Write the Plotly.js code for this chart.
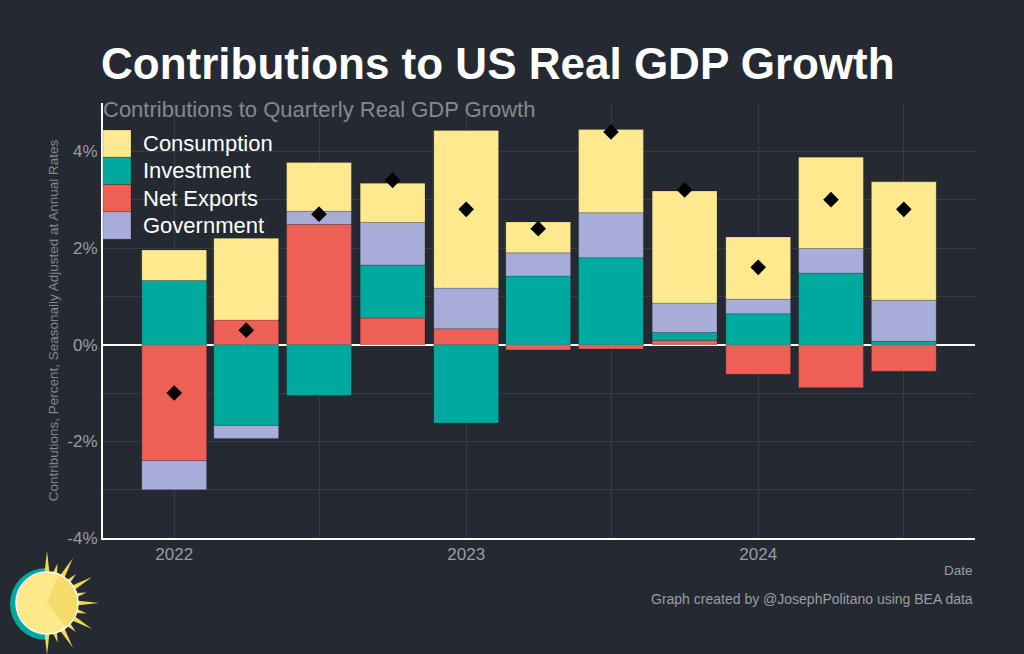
<!DOCTYPE html>
<html>
<head>
<meta charset="utf-8">
<script src="https://cdn.plot.ly/plotly-3.0.1.min.js"></script>
<style>
html,body{margin:0;padding:0;background:#252a32;}
#chart{width:1024px;height:654px;}
</style>
</head>
<body>
<div id="chart"></div>
<script>
// ---- Data (percentage-point contributions, SAAR) ----
const quarters = ['2022-01-01','2022-04-01','2022-07-01','2022-10-01','2023-01-01','2023-04-01','2023-07-01','2023-10-01','2024-01-01','2024-04-01','2024-07-01'];
const consumption = [0.63, 1.69, 1.01, 0.81, 3.26, 0.64, 1.72, 2.32, 1.29, 1.89, 2.45];
const investment  = [1.33, -1.67, -1.05, 1.10, -1.62, 1.42, 1.80, 0.16, 0.64, 1.48, 0.07];
const netExports  = [-2.40, 0.51, 2.49, 0.55, 0.33, -0.11, -0.09, 0.09, -0.61, -0.89, -0.55];
const government  = [-0.60, -0.27, 0.27, 0.88, 0.84, 0.48, 0.93, 0.61, 0.30, 0.51, 0.85];
const gdpGrowth   = [-1.0, 0.3, 2.7, 3.4, 2.8, 2.4, 4.4, 3.2, 1.6, 3.0, 2.8];
const yTickVals   = [-4, -2, 0, 2, 4];
const yTickText   = ['-4%', '-2%', '0%', '2%', '4%'];

// ---- Styles ----
const COLORS = {cons:'#FFE98F', inv:'#00A99D', nx:'#EE6055', gov:'#A7ACD9'};
const FONT = 'Liberation Sans, Arial, Helvetica, sans-serif';
const BAR_W = 81 * 86400000;
const GRID = '#363b45';
const EDGE = 'rgba(0,0,0,0.18)';

function bar(name, y, color){
  return {type:'bar', name:name, x:quarters, y:y, width:BAR_W, showlegend:false,
    marker:{color:color, line:{color:EDGE, width:1}},
    hovertemplate:'%{y:.2f}%<extra>'+name+'</extra>'};
}
// stacking order (bottom first)
const traces = [
  bar('Net Exports', netExports, COLORS.nx),
  bar('Investment', investment, COLORS.inv),
  bar('Government', government, COLORS.gov),
  bar('Consumption', consumption, COLORS.cons),
  {type:'scatter', mode:'markers', name:'Real GDP Growth', x:quarters, y:gdpGrowth, showlegend:false,
   marker:{symbol:'diamond', size:12, color:'#000000'}}
];
// legend order (top first)
const legendItems = [['Consumption', COLORS.cons], ['Investment', COLORS.inv], ['Net Exports', COLORS.nx], ['Government', COLORS.gov]];

// ---- sun logo (decoration) ----
function sunSVG(){
  const cx=47, cy=63;
  let s = '<svg xmlns="http://www.w3.org/2000/svg" width="110" height="114" viewBox="0 0 110 114">';
  s += '<path d="M46,28 A36,36 0 0,0 46,100 Z" fill="#00A99D"/>';
  for(let i=0;i<=12;i++){
    const a=(-90+i*15)*Math.PI/180, len=(i%2===0)?52:41, hw=6*Math.PI/180;
    const p=(ang,r)=>(cx+r*Math.cos(ang)).toFixed(1)+','+(cy+r*Math.sin(ang)).toFixed(1);
    s += '<polygon points="'+p(a-hw,27)+' '+p(a,len)+' '+p(a+hw,27)+'" fill="#F6D94F"/>';
  }
  s += '<circle cx="'+cx+'" cy="'+cy+'" r="31" fill="#FDE88A" stroke="#ffffff" stroke-width="1.5"/>';
  const a1=-68*Math.PI/180, a2=51*Math.PI/180, r=30.2;
  s += '<path d="M'+cx+','+cy+' L'+(cx+r*Math.cos(a1)).toFixed(1)+','+(cy+r*Math.sin(a1)).toFixed(1)+' A'+r+','+r+' 0 0,1 '+(cx+r*Math.cos(a2)).toFixed(1)+','+(cy+r*Math.sin(a2)).toFixed(1)+' Z" fill="#F5DC6A"/>';
  s += '</svg>';
  return 'data:image/svg+xml;charset=utf-8,' + encodeURIComponent(s);
}
const PL=103, PR=975, PT=103, PB=538;
const px2x = v => (v-PL)/(PR-PL);
const px2y = v => (PB-v)/(PB-PT);

// ---- custom legend: large contiguous swatches ----
const LEG_TOP = 130, LEG_H = 27.3, LEG_W = 28, LEG_TXT = 143;
const legendShapes = legendItems.map((it, i) => ({
  type:'rect', xref:'paper', yref:'paper', layer:'above',
  x0:px2x(PL), x1:px2x(PL+LEG_W), y0:px2y(LEG_TOP+i*LEG_H), y1:px2y(LEG_TOP+(i+1)*LEG_H),
  fillcolor:it[1], line:{color:EDGE, width:1}
}));
const legendLabels = legendItems.map((it, i) => ({
  text:it[0], xref:'paper', yref:'paper', x:px2x(LEG_TXT), y:px2y(LEG_TOP+(i+0.5)*LEG_H),
  xanchor:'left', yanchor:'middle', showarrow:false, xshift:-2, font:{size:22, color:'#ffffff'}
}));

const layout = {
  width:1024, height:654,
  paper_bgcolor:'#252a32', plot_bgcolor:'#252a32',
  font:{family:FONT, color:'#9a9da3'},
  margin:{l:PL, r:1024-PR, t:PT, b:654-PB, autoexpand:false},
  barmode:'relative',
  showlegend:false,
  title:{text:'<b>Contributions to US Real GDP Growth</b>', font:{family:FONT, size:44, color:'#ffffff'},
         x:101/1024, xanchor:'left', xref:'container', y:1-64/654, yanchor:'middle', yref:'container'},
  xaxis:{type:'date', range:['2021-10-04','2024-09-28'], tickmode:'linear', tick0:'2022-01-01', dtick:'M12',
         tickformat:'%Y', tickfont:{size:17, color:'#9a9da3'}, showgrid:true, gridcolor:GRID, gridwidth:1,
         minor:{tickmode:'linear', tick0:'2022-01-01', dtick:'M6', showgrid:true, gridcolor:GRID, gridwidth:1},
         showline:true, linecolor:'#ffffff', linewidth:2, ticks:'', zeroline:false},
  yaxis:{range:[-4,5], tickmode:'array', tickvals:yTickVals, ticktext:yTickText,
         tickfont:{size:17, color:'#9a9da3'}, showgrid:true, gridcolor:GRID, gridwidth:1,
         minor:{tickmode:'linear', tick0:0, dtick:1, showgrid:true, gridcolor:GRID, gridwidth:1},
         showline:true, linecolor:'#ffffff', linewidth:2, ticks:'',
         zeroline:true, zerolinecolor:'#ffffff', zerolinewidth:2,
         title:{text:'Contributions, Percent, Seasonally Adjusted at Annual Rates', font:{size:13.5, color:'#85888e'}, standoff:6}},
  shapes:legendShapes,
  annotations:[
    {text:'Contributions to Quarterly Real GDP Growth', xref:'paper', yref:'paper', x:0, y:px2y(109),
     xanchor:'left', yanchor:'middle', showarrow:false, xshift:-2, font:{size:22, color:'#85888e'}},
    {text:'Date', xref:'paper', yref:'paper', x:1, y:px2y(570), xanchor:'right', yanchor:'middle',
     showarrow:false, font:{size:13.5, color:'#9a9da3'}},
    {text:'Graph created by @JosephPolitano using BEA data', xref:'paper', yref:'paper', x:1, y:px2y(599),
     xanchor:'right', yanchor:'middle', showarrow:false, font:{size:14, color:'#9a9da3'}}
  ].concat(legendLabels),
  images:[{source:sunSVG(), xref:'paper', yref:'paper', x:px2x(0), y:px2y(540), sizex:110/(PR-PL), sizey:114/(PB-PT),
           xanchor:'left', yanchor:'top', sizing:'stretch', layer:'above'}]
};

Plotly.newPlot('chart', traces, layout, {displayModeBar:false, responsive:false});
</script>
</body>
</html>
